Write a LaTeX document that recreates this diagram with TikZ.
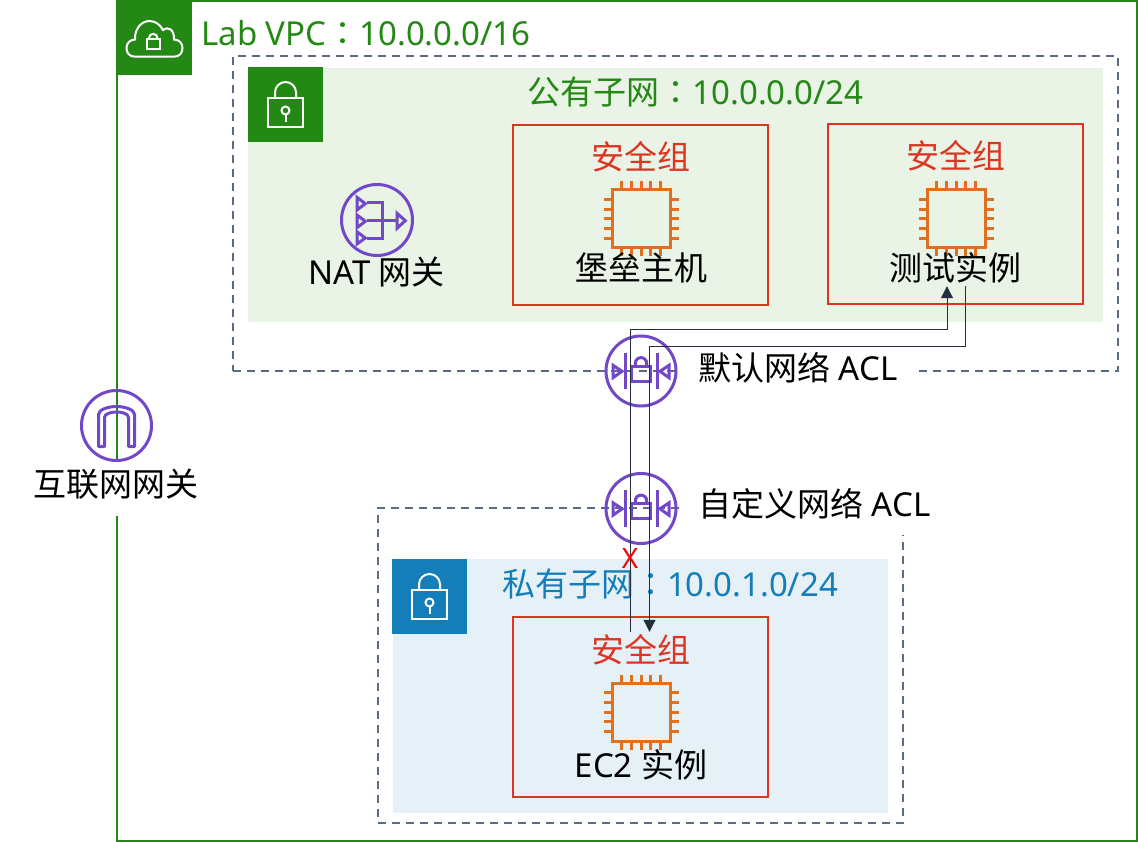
\documentclass[tikz,border=0pt]{standalone}
\usepackage{fontspec}
\setmainfont{Noto Sans}
\newfontfamily\cjk{Noto Sans CJK SC}
\newfontfamily\cjkcolon{Noto Sans CJK TC}
\usetikzlibrary{arrows.meta}

\definecolor{vpcgreen}{HTML}{248814}
\definecolor{pubfill}{HTML}{E9F3E6}
\definecolor{privblue}{HTML}{147EBA}
\definecolor{privfill}{HTML}{E6F0F7}
\definecolor{sgred}{HTML}{DD3522}
\definecolor{dashgray}{HTML}{5A6B86}
\definecolor{iconpurple}{HTML}{7048C8}
\definecolor{chiporange}{HTML}{E07020}
\definecolor{linedark}{HTML}{232F3E}

\newcommand{\lblsize}{\fontsize{33}{40}\selectfont}
\newcommand{\fwc}{{\cjkcolon ：}}

\tikzset{
	every node/.style={inner sep=0pt,font=\lblsize},
	badge/.style={fill=#1,minimum width=75pt,minimum height=75pt},
	subnetbox/.style={draw=dashgray,line width=2pt,dash pattern=on 8pt off 6pt},
	sgbox/.style={draw=sgred,line width=2pt,minimum width=255pt,minimum height=180pt},
	sgtitle/.style={text=sgred,minimum height=36pt},
	hostlabel/.style={text=black,minimum height=36pt},
	chipbody/.style={draw=chiporange,line width=3pt,minimum width=58pt,minimum height=58pt},
	iconring/.style={draw=iconpurple,line width=3pt,circle,minimum size=70pt},
	acllabel/.style={fill=white,inner xsep=17pt,text=black,anchor=base west},
	flowline/.style={draw=linedark,line width=1pt},
	flowtip/.style={-{Triangle[length=12pt,width=12pt]}},
	pics/lockicon/.style={code={
		\draw[white,line width=2pt] (-17.5,-6.5) rectangle (17.5,22.5);
		\draw[white,line width=2pt] (-10.5,-6.5) -- (-10.5,-12) arc (180:360:10.5) -- (10.5,-6.5);
		\draw[white,line width=2pt] (0,6) circle (4);
		\draw[white,line width=2pt] (0,10) -- (0,17.5);
	}},
	pics/cloudicon/.style={code={
		\draw[white,line width=2pt] (-19.5,18.7) .. controls (-25,18.7) and (-28,15) .. (-28,10)
			.. controls (-28,5) and (-24,1.5) .. (-19.5,1.5)
			.. controls (-20,-8) and (-14,-17) .. (-5,-17)
			.. controls (1,-17) and (6,-13) .. (8.5,-8)
			.. controls (13,-12) and (20,-9) .. (19.5,1.5)
			.. controls (24.5,1.5) and (28,5) .. (28,10)
			.. controls (28,15) and (25,18.7) .. (19.5,18.7) -- cycle;
		\draw[white,line width=2pt] (-8,1.5) rectangle (5.5,11);
		\draw[white,line width=2pt] (-5.5,1.5) -- (-5.5,0) arc (180:360:4.2) -- (2.9,1.5);
	}},
	pics/chippins/.style={code={
		\foreach \p in {-19.2,-9.6,0,9.6,19.2} {
			\draw[chiporange,line width=3pt] (\p,-29) -- (\p,-37.5);
			\draw[chiporange,line width=3pt] (\p,29) -- (\p,37.5);
			\draw[chiporange,line width=3pt] (-29,\p) -- (-37.5,\p);
			\draw[chiporange,line width=3pt] (29,\p) -- (37.5,\p);
		}
	}},
	pics/naticon/.style={code={
		\draw[iconpurple,line width=3pt,line join=miter]
			(-20,-22.7) -- (-11.7,-16.3) -- (-20,-10) -- cycle
			(-20,-5) -- (-11.7,1.3) -- (-20,7.7) -- cycle
			(-20,11.7) -- (-11.7,18) -- (-20,24) -- cycle
			(20,-6.7) -- (28.3,0.7) -- (20,8.3) -- cycle;
		\draw[iconpurple,line width=3pt] (-10,-17.3) -- (5,-17.3) -- (5,18.3) -- (-10,18.3);
		\draw[iconpurple,line width=3pt] (-10,1) -- (20,1);
	}},
	pics/aclicon/.style={code={
		\draw[iconpurple,line width=3pt] (-16,-18.3) -- (-16,18.3);
		\draw[iconpurple,line width=3pt] (16,-18.3) -- (16,18.3);
		\draw[iconpurple,line width=3pt] (-28,-5.7) -- (-19,0.3) -- (-28,6.7) -- cycle;
		\draw[iconpurple,line width=3pt] (28,-5.7) -- (19,0.3) -- (28,6.7) -- cycle;
		\draw[iconpurple,line width=3pt] (-9.3,-5) rectangle (9.3,10);
		\draw[iconpurple,line width=3pt] (-5.7,-5) -- (-5.7,-7.7) arc (180:360:5.7) -- (5.7,-5);
	}},
	pics/igwicon/.style={code={
		\draw[iconpurple,line width=3pt,line join=round] (-18,21) -- (-18,-11)
			.. controls (-18,-16) and (-8,-19) .. (0,-19)
			.. controls (8,-19) and (18,-16) .. (18,-11)
			-- (18,21) -- (12,21) -- (12,-8)
			.. controls (12,-12) and (5,-13.5) .. (0,-13.5)
			.. controls (-5,-13.5) and (-12,-12) .. (-12,-8)
			-- (-12,21) -- cycle;
	}},
}

\begin{document}
\begin{tikzpicture}[x=1pt,y=-1pt,node distance=62pt]
	\useasboundingbox (0,0) rectangle (1138,842);

	% VPC
	\node[draw=vpcgreen,line width=2pt,minimum width=1020pt,minimum height=840pt] (vpc) at (627,421) {};
	\node[badge=vpcgreen] (vpcbadge) at (154.5,38) {};
	\pic at (vpcbadge) {cloudicon};
	\node[text=vpcgreen,anchor=west] (vpctitle) at (201,33) {Lab VPC\fwc 10.0.0.0/16};

	% internet gateway
	\node[fill=white,text=black,text height=36pt,text depth=20pt,anchor=base] (igwlabel) at (116.5,496) {{\cjk 互联网网关}};
	\node[iconring] (igw) at (116.5,425.5) {};
	\pic at (igw) {igwicon};

	% public subnet
	\node[subnetbox,minimum width=885pt,minimum height=315pt] (pubouter) at (675.5,213.5) {};
	\node[fill=pubfill,minimum width=855pt,minimum height=254pt] (pubbox) at (675.5,195) {};
	\node[badge=vpcgreen] (pubbadge) at (285.5,104.5) {};
	\pic at (pubbadge) {lockicon};
	\node[text=vpcgreen] (pubtitle) at (695.5,92) {{\cjk 公有子网}\fwc 10.0.0.0/24};

	\node[iconring,minimum size=71pt] (nat) at (377,220) {};
	\pic at (nat) {naticon};
	\node[hostlabel] (natlabel) at (376.5,272) {NAT {\cjk 网关}};

	\node[sgbox] (sgbastion) at (640.5,215) {};
	\node[sgtitle] (sgbastiontitle) at (641,157) {\cjk 安全组};
	\node[chipbody] (chipbastion) [below of=sgbastiontitle] {};
	\pic at (chipbastion) {chippins};
	\node[hostlabel] (bastion) at (641,268) {\cjk 堡垒主机};

	\node[sgbox] (sgtest) at (955.5,214) {};
	\node[sgtitle] (sgtesttitle) at (956,156) {\cjk 安全组};
	\node[chipbody] (chiptest) at (956,219) {};
	\pic at (chiptest) {chippins};
	\node[hostlabel] (test) at (955.5,268) {\cjk 测试实例};

	% private subnet
	\node[subnetbox,minimum width=525pt,minimum height=315pt] (privouter) at (640.5,665.5) {};
	\node[fill=privfill,minimum width=495pt,minimum height=254pt] (privbox) at (640.5,686) {};
	\node[badge=privblue] (privbadge) at (429.5,596.5) {};
	\pic at (privbadge) {lockicon};
	\node[text=privblue] (privtitle) at (670,584) {{\cjk 私有子网}\fwc 10.0.1.0/24};

	\node[sgbox] (sgec) at (640.5,707) {};
	\node[sgtitle] (sgectitle) at (641,650) {\cjk 安全组};
	\node[chipbody] (chipec) [below of=sgectitle] {};
	\pic at (chipec) {chippins};
	\node[hostlabel] (ec) at (641,765) {EC2 {\cjk 实例}};

	% network ACLs
	\node[acllabel,text height=30pt,text depth=20pt] (defacllabel) at (681,381) {{\cjk 默认网络} ACL};
	\node[iconring] (defacl) at (641,371) {};
	\pic at (defacl) {aclicon};
	\node[acllabel,text height=36pt,text depth=19pt] (cusacllabel) at (681,516) {{\cjk 自定义网络} ACL};
	\node[iconring] (cusacl) at (641,508.5) {};
	\pic at (cusacl) {aclicon};

	% traffic
	\coordinate (turnblocked) at (630,330);
	\coordinate (turnallowed) at (649.5,347);
	\path[flowline,flowtip] ([xshift=-11pt]sgectitle.north) -- (turnblocked) -| ([xshift=-8.5pt]test.south);
	\path[flowline,flowtip] ([xshift=10pt]test.south) |- (turnallowed) -- ([xshift=8.5pt]sgectitle.north);
	\node[text=red,font=\fontsize{28}{30}\selectfont] (blocked) at (630,559) {X};
\end{tikzpicture}
\end{document}
